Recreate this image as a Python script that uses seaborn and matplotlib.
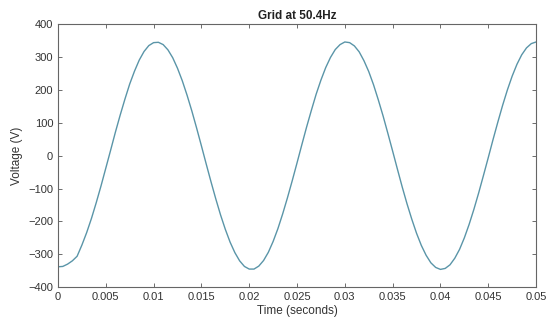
import numpy as np
import pandas as pd
import matplotlib
matplotlib.use("Agg")
import matplotlib.pyplot as plt
import seaborn as sns

# time samples (seconds) and voltage
time_s = [round(0.0005 * i, 4) for i in range(101)]
voltage = [
    -338, -337, -330, -320, -306,
    -272, -234, -191, -143, -92, -38, 16, 71, 123, 172,
    218, 257, 291, 317, 335, 344, 345, 338, 322, 298,
    266, 228, 184, 136, 84, 30, -25, -79, -131, -180,
    -224, -263, -295, -320, -337, -345, -345, -336, -319, -294,
    -261, -222, -177, -128, -76, -22, 33, 87, 138, 187,
    230, 268, 299, 323, 338, 346, 344, 334, 316, 289,
    256, 216, 170, 121, 68, 14, -41, -95, -146, -193,
    -236, -273, -303, -326, -340, -346, -343, -332, -312, -285,
    -250, -209, -163, -113, -60, -6, 49, 102, 153, 200,
    242, 278, 307, 328, 341, 346,
]
x_ticks = [0, 0.005, 0.01, 0.015, 0.02, 0.025, 0.03, 0.035, 0.04, 0.045, 0.05]
x_tick_labels = ["0", "0.005", "0.01", "0.015", "0.02", "0.025", "0.03", "0.035", "0.04", "0.045", "0.05"]
y_ticks = [-400, -300, -200, -100, 0, 100, 200, 300, 400]

df = pd.DataFrame({"Time": time_s, "Voltage": voltage})

sns.set_style("ticks")
plt.rcParams["font.family"] = ["Liberation Sans", "DejaVu Sans"]

fig = plt.figure(figsize=(5.47, 3.23), dpi=100)
ax = fig.add_axes([0.106, 0.111, 0.874, 0.814])

sns.lineplot(data=df, x="Time", y="Voltage", ax=ax, color="#5a95a8", linewidth=1.0)

ax.set_xlim(0, 0.05)
ax.set_ylim(-400, 400)
ax.set_xticks(x_ticks)
ax.set_xticklabels(x_tick_labels)
ax.set_yticks(y_ticks)
ax.tick_params(direction="in", length=3, width=0.6, colors="#555555",
               labelcolor="#333333", labelsize=8, top=True, right=True)
for s in ax.spines.values():
    s.set_visible(True)
    s.set_color("#666666")
    s.set_linewidth(0.8)

ax.set_xlabel("Time (seconds)", fontsize=8.5, color="#333333", labelpad=2)
ax.set_ylabel("Voltage (V)", fontsize=8.5, color="#333333", labelpad=4)
ax.set_title("Grid at 50.4Hz", fontsize=8.5, fontweight="bold", color="#222222", pad=4)

fig.savefig("out.png", dpi=100)
